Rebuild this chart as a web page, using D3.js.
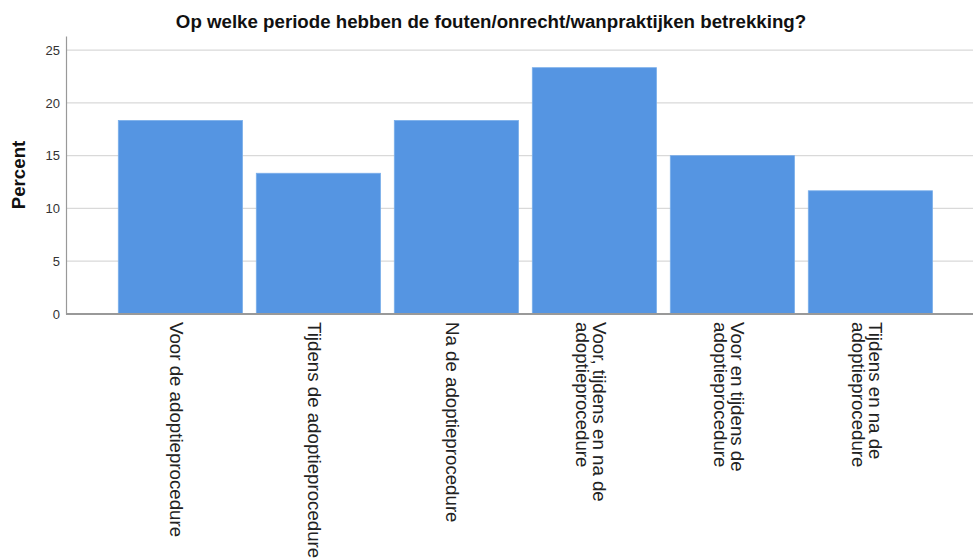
<!DOCTYPE html>
<html>
<head>
<meta charset="utf-8">
<script src="https://cdn.jsdelivr.net/npm/d3@7"></script>
<style>
  html, body { margin: 0; padding: 0; background: #fff; }
  svg { display: block; font-family: "Liberation Sans", Arial, sans-serif; }
</style>
</head>
<body>
<svg id="chart" width="973" height="560"></svg>
<script>
const categories = [
  ["Voor de adoptieprocedure"],
  ["Tijdens de adoptieprocedure"],
  ["Na de adoptieprocedure"],
  ["Voor, tijdens en na de", "adoptieprocedure"],
  ["Voor en tijdens de", "adoptieprocedure"],
  ["Tijdens en na de", "adoptieprocedure"]
];
const values = [18.33, 13.33, 18.33, 23.33, 15.0, 11.67];
const yTicks = [0, 5, 10, 15, 20, 25];
const title = "Op welke periode hebben de fouten/onrecht/wanpraktijken betrekking?";
const yLabel = "Percent";

(function () {
const svg = d3.select("#chart");
const mLeft = 66, mRight = 973, mTop = 36, mBottom = 314;

const y = d3.scaleLinear().domain([0, 26.33]).range([mBottom, mTop]);
const x = d3.scaleBand()
  .domain(d3.range(categories.length))
  .range([118.3, 932.5])
  .paddingInner(0.1)
  .paddingOuter(0);

// gridlines
svg.append("g")
  .selectAll("line")
  .data(yTicks.filter(d => d > 0))
  .join("line")
  .attr("x1", mLeft).attr("x2", mRight)
  .attr("y1", d => y(d)).attr("y2", d => y(d))
  .attr("stroke", "#d9d9d9").attr("stroke-width", 1.2);

// y axis
const yAxis = svg.append("g")
  .attr("transform", `translate(${mLeft},0)`)
  .call(d3.axisLeft(y).tickValues(yTicks).tickSize(0).tickPadding(6));
yAxis.select(".domain").attr("stroke", "#999").attr("stroke-width", 1.2);
yAxis.selectAll("text").attr("font-size", 13).attr("fill", "#333")
  .attr("font-family", "'Liberation Sans', Arial, sans-serif");

// bars
svg.append("g")
  .selectAll("rect")
  .data(values)
  .join("rect")
  .attr("x", (d, i) => x(i))
  .attr("width", x.bandwidth())
  .attr("y", d => y(d))
  .attr("height", d => y(0) - y(d))
  .attr("fill", "#5595e2")
  .attr("stroke", "#7aaeea")
  .attr("stroke-width", 0.8);

// x axis line
svg.append("line")
  .attr("x1", mLeft).attr("x2", mRight)
  .attr("y1", y(0)).attr("y2", y(0))
  .attr("stroke", "#999").attr("stroke-width", 2);

// x labels rotated
const lineH = 17;
const labels = svg.append("g").selectAll("text")
  .data(categories)
  .join("text")
  .attr("transform", (d, i) => {
    const cx = x(i) + x.bandwidth() / 2 - 4.5;
    const n = d.length;
    const firstLineCenter = cx + (n - 1) * lineH / 2;
    const tx = firstLineCenter - 5.5;
    return `translate(${tx},322) rotate(90)`;
  })
  .attr("font-size", 18.7)
  .attr("fill", "#222")
  .attr("text-anchor", "start");
labels.each(function(d) {
  const t = d3.select(this);
  d.forEach((line, k) => {
    t.append("tspan").attr("x", 0).attr("dy", k === 0 ? 0 : lineH).text(line);
  });
});

// title
svg.append("text")
  .attr("x", 491).attr("y", 27.5)
  .attr("text-anchor", "middle")
  .attr("font-size", 18.7).attr("font-weight", "bold")
  .attr("fill", "#111")
  .text(title);

// y label
svg.append("text")
  .attr("transform", `translate(25,175) rotate(-90)`)
  .attr("text-anchor", "middle")
  .attr("font-size", 18.7).attr("font-weight", "bold")
  .attr("fill", "#111")
  .text(yLabel);
})();
</script>
</body>
</html>
